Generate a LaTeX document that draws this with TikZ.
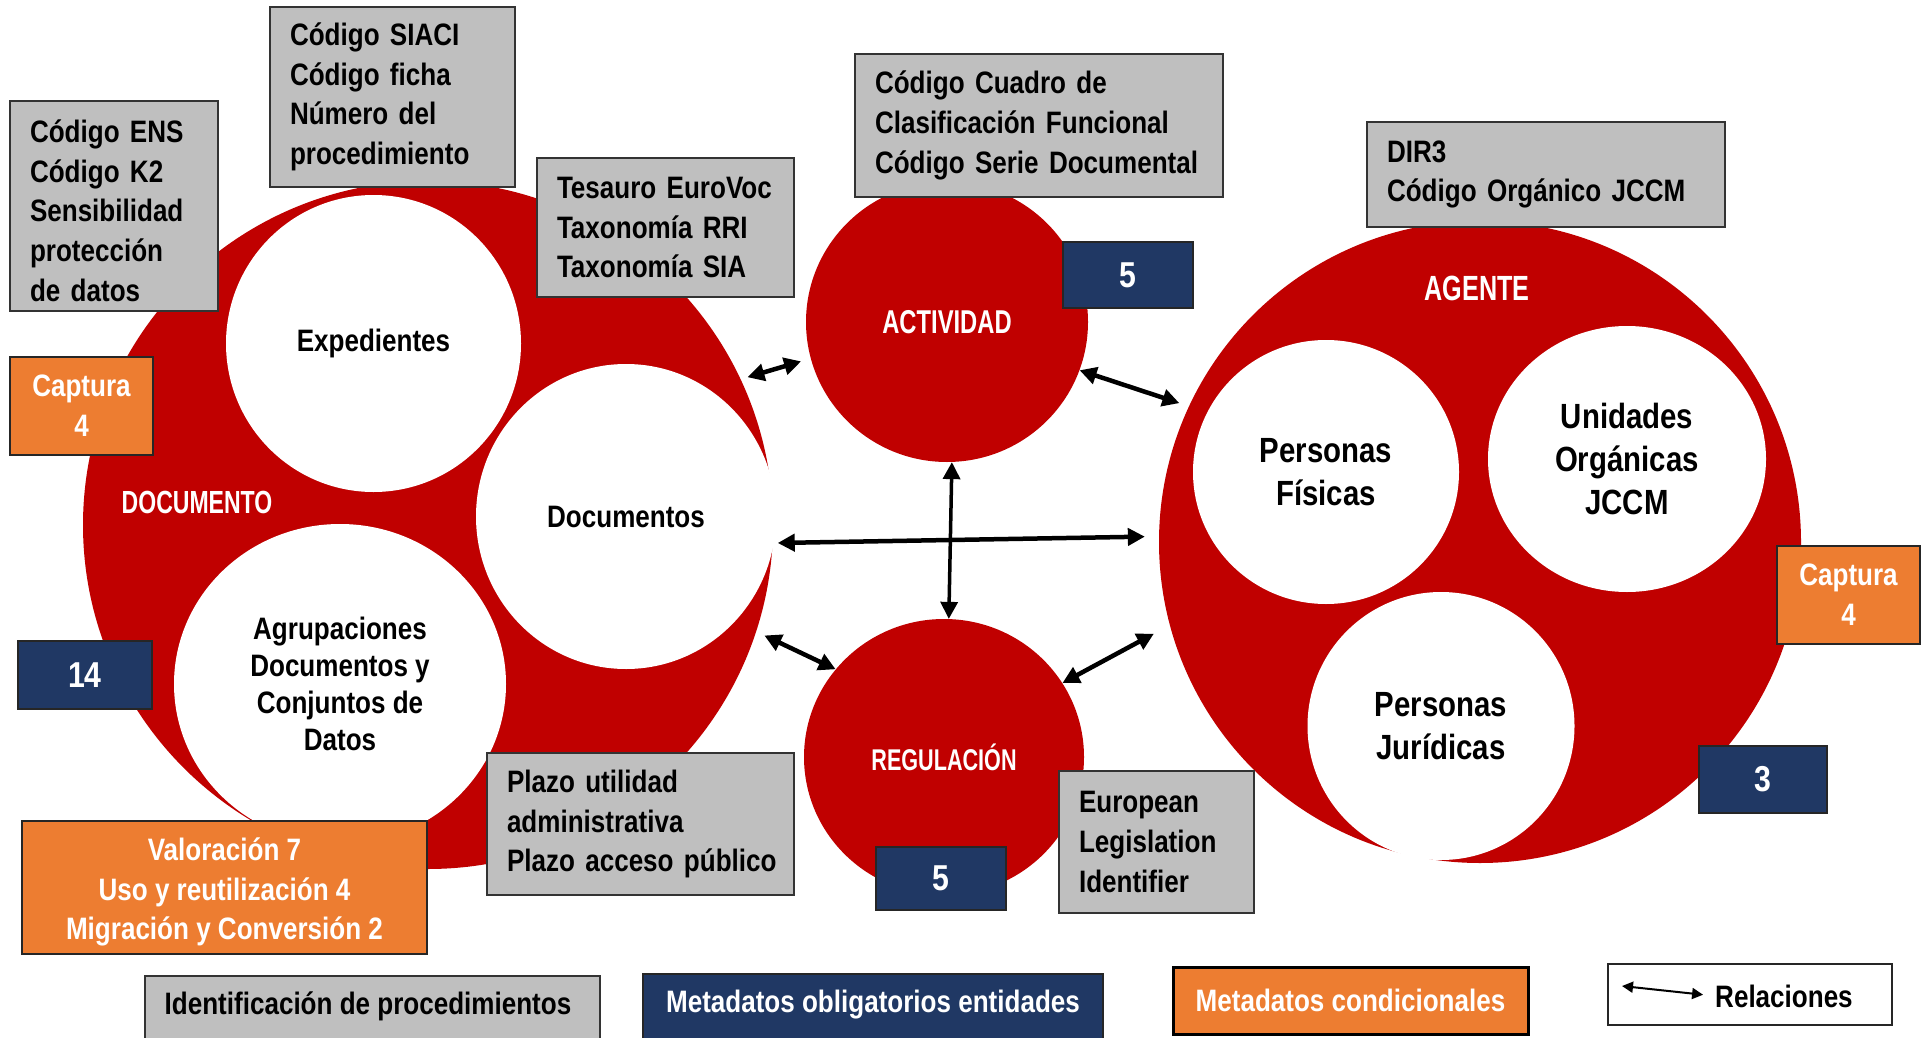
\documentclass[tikz,border=0pt]{standalone}
\usepackage{fontspec}
\setmainfont{Liberation Sans}
\newfontfamily\nf[FakeStretch=0.84]{Liberation Sans}
\newfontfamily\lf[FakeStretch=0.72]{Liberation Sans}
\usetikzlibrary{shapes.geometric,arrows.meta}
\definecolor{rojo}{HTML}{C00000}
\definecolor{gris}{HTML}{BFBFBF}
\definecolor{azul}{HTML}{203864}
\definecolor{naranja}{HTML}{ED7D31}
\newcommand\oneline[1]{\mbox{#1}}
\tikzset{
 redc/.style={ellipse, fill=rojo, inner sep=0pt, text=white},
 whitec/.style={ellipse, fill=white, inner sep=0pt, align=center, font=\nf\bfseries\fontsize{31}{37}\selectfont},
 whitecb/.style={whitec, font=\nf\bfseries\fontsize{35}{43}\selectfont},
 redlab/.style={text=white, inner sep=0pt},
 graybox/.style={rectangle, fill=gris, draw=black!80, line width=1.5pt, inner xsep=20pt, inner ysep=0pt, align=left, font=\nf\bfseries\fontsize{31}{39.7}\selectfont},
 navybox/.style={rectangle, fill=azul, draw=black!85, line width=1.5pt, text=white, inner sep=0pt, font=\nf\bfseries\fontsize{36}{36}\selectfont},
 orangebox/.style={rectangle, fill=naranja, draw=black!85, line width=1.5pt, text=white, inner sep=0pt, align=center, font=\nf\bfseries\fontsize{31}{39.7}\selectfont},
 txtonly/.style={inner sep=0pt, font=\nf\bfseries\fontsize{31}{39.7}\selectfont},
 rel/.style={{Triangle[length=17pt,width=17pt]}-{Triangle[length=17pt,width=17pt]}, line width=4.5pt},
 legrel/.style={{Triangle[length=11pt,width=11pt]}-{Triangle[length=11pt,width=11pt]}, line width=2pt},
}
\begin{document}
\begin{tikzpicture}[x=1pt,y=-1pt]
\useasboundingbox[fill=white] (0,0) rectangle (1930,1038);

% red entity circles
\node[redc, minimum width=690pt, minimum height=688pt] (doc) at (428,525) {};
\node[redc, minimum width=282pt, minimum height=280pt, font=\lf\bfseries\fontsize{33}{33}\selectfont] (act) at (947,322) {ACTIVIDAD};
\node[redc, minimum width=280pt, minimum height=276pt, font=\lf\bfseries\fontsize{30}{30}\selectfont] (reg) at (944,757) {REGULACIÓN};
\node[redc, minimum width=642pt, minimum height=642pt] (agent) at (1480,542) {};

% white inner circles
\node[whitec, minimum width=295pt, minimum height=297pt] (exp) at (373.5,343.5) {Expedientes};
\node[whitec, minimum width=300pt, minimum height=305pt] (docs) at (626,516.5) {Documentos};
\node[whitec, minimum width=332pt, minimum height=320pt] (agr) at (340,684) {Agrupaciones\\Documentos~y\\Conjuntos~de\\Datos};
\node[whitecb, minimum width=266pt, minimum height=264pt] (pf) at (1326,472) {Personas\\Físicas};
\node[whitecb, minimum width=278pt, minimum height=266pt] (uo) at (1627,459) {Unidades\\Orgánicas\\JCCM};
\node[whitecb, minimum width=267pt, minimum height=268pt] (pj) at (1441,726) {Personas\\Jurídicas};

% entity labels
\node[redlab, font=\lf\bfseries\fontsize{32}{32}\selectfont] (docl) at (197,502) {DOCUMENTO};
\node[redlab, font=\lf\bfseries\fontsize{35}{35}\selectfont] (agl) at (1477,288) {AGENTE};

% relations
\draw[rel, shorten <=7pt, shorten >=10pt] (doc.25) -- (act.195);
\draw[rel, shorten >=10pt] (act.-20) -- (agent.155);
\draw[rel, shorten <=5pt, shorten >=14pt] (doc.-3) -- (agent.179);
\draw[rel, line width=3.5pt] (act.-88) -- (reg.88);
\draw[rel, shorten <=9pt] (doc.-18) -- (reg.141);
\draw[rel, shorten >=18pt] (reg.32) -- (agent.195);

% grey boxes (procedure identification)
\node[graybox, text width=168pt, minimum height=210pt] (ens) at (114,206) {\rule{0pt}{32pt}\oneline{Código ENS}\\\oneline{Código K2}\\Sensibilidad\\protección\\\oneline{de datos}};
\node[graybox, text width=205pt, minimum height=180pt] (siaci) at (392.5,97) {\oneline{Código SIACI}\\\oneline{Código ficha}\\\oneline{Número del}\\procedimiento};
\node[graybox, text width=217pt, minimum height=139pt] (tes) at (665.5,227.5) {\oneline{Tesauro EuroVoc}\\\oneline{Taxonomía RRI}\\\oneline{Taxonomía SIA}};
\node[graybox, text width=328pt, minimum height=143pt] (cua) at (1039,125.5) {\oneline{Código Cuadro de}\\\oneline{Clasificación Funcional}\\\oneline{Código Serie Documental}};
\node[graybox, text width=318pt, minimum height=105pt] (dir) at (1546,174.5) {DIR3\\\oneline{Código Orgánico JCCM}};
\node[graybox, text width=267pt, minimum height=142pt] (plazo) at (640.5,824) {\oneline{Plazo utilidad}\\administrativa\\\oneline{Plazo acceso público}};
\node[graybox, text width=155pt, minimum height=142pt] (eli) at (1156.5,842) {European\\Legislation\\Identifier};

% navy boxes (mandatory metadata)
\node[navybox, minimum width=130pt, minimum height=66pt] (n5a) at (1128,275) {5};
\node[navybox, minimum width=134pt, minimum height=68pt] (n14) at (85,675) {14};
\node[navybox, minimum width=130pt, minimum height=63pt] (n5r) at (941,878.5) {5};
\node[navybox, minimum width=128pt, minimum height=67pt] (n3) at (1763,779.5) {3};

% orange boxes (conditional metadata)
\node[orangebox, minimum width=143pt, minimum height=98pt] (capl) at (81.5,406) {Captura\\4};
\node[orangebox, minimum width=143pt, minimum height=98pt] (capr) at (1848.5,595) {Captura\\4};
\node[orangebox, minimum width=405pt, minimum height=133pt] (val) at (224.5,887.5) {\rule{0pt}{32pt}Valoración 7\\Uso y reutilización 4\\Migración y Conversión 2};

% legend
\node[graybox, minimum width=455pt, minimum height=90pt] (lg1) at (372.5,1021) {};
\node[txtonly] (lg1t) at (368,1006) {Identificación de procedimientos};
\node[navybox, minimum width=460pt, minimum height=90pt] (lg2) at (873,1019) {};
\node[txtonly, text=white] (lg2t) at (873,1005) {Metadatos obligatorios entidades};
\node[orangebox, line width=3pt, draw=black, minimum width=355pt, minimum height=67pt] (lg3) at (1350.5,1000.5) {Metadatos condicionales};
\node[rectangle, draw=black!85, fill=white, line width=1.5pt, minimum width=284pt, minimum height=61pt] (lg4) at (1750,994.5) {};
\node[txtonly, anchor=west] (relt) at (1715,996) {Relaciones};
\coordinate (ra) at (1622,986);
\draw[legrel, shorten >=12pt] (ra) -- (relt.west);
\end{tikzpicture}
\end{document}
